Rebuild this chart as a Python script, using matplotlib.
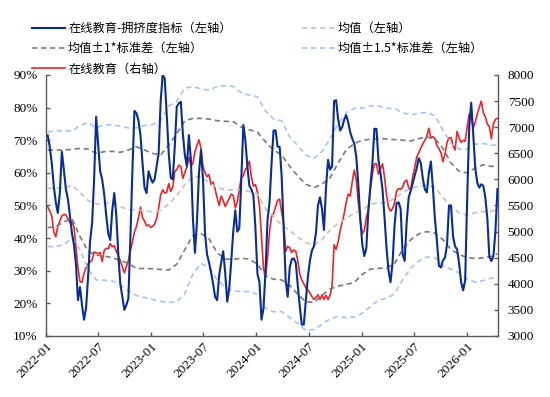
import matplotlib
matplotlib.use("Agg")
import matplotlib.pyplot as plt
import matplotlib.dates as mdates
from matplotlib.ticker import FuncFormatter, MultipleLocator
import pandas as pd
import numpy as np

# ---------------- data ----------------
dates = pd.date_range("2022-01-07", periods=224, freq="7D")

crowding = [
    71.5, 68, 63, 56, 51, 47.7, 53.8, 66.5, 61, 55, 52, 47, 41.5, 38, 32, 21, 25, 19.5, 15, 18.5,
    28, 39, 44.5, 58, 77.2, 69, 60.5, 58, 53.5, 47, 41.5, 39.4, 48.6, 53.8, 47, 35, 26, 22, 18, 19.5,
    21.5, 40.4, 60.9, 79, 78.3, 76, 71.5, 63, 55.5, 53.8, 60.5, 58.5, 57, 58, 62, 66, 82, 90, 89, 78,
    66, 58.5, 58, 68, 80.3, 81.3, 81.8, 72, 65.5, 62, 71.6, 64, 46, 35.5, 45, 60, 67, 58, 41.5, 35,
    32.5, 29.5, 26, 22, 21, 28.5, 32.5, 36, 29.5, 20.5, 24.5, 33, 42, 48.5, 42, 43, 58, 74.7, 70, 62,
    56, 55, 53, 43, 29, 26.5, 15, 18.5, 30, 45.6, 51, 63, 73, 73, 68, 68, 59, 43, 27, 22,
    31, 33.5, 33.8, 32.5, 25.5, 19, 13.5, 13.5, 21, 28, 33, 36.2, 37.5, 41.5, 50, 52.5, 49, 42.5, 55.5, 64,
    61, 62, 82, 82.3, 76.5, 73, 74, 76.3, 77.7, 75.5, 72.5, 70.5, 69, 65, 56.5, 46, 38, 34.5, 37, 48.5,
    56, 63, 73.5, 73.5, 64, 60, 55, 46.5, 37, 30, 26.5, 32.5, 44, 50.7, 51, 49, 35, 33, 45, 52.5,
    54.5, 56.8, 59, 61.5, 64.5, 63, 58.3, 55, 54, 60, 63.5, 55.5, 46, 39, 31.5, 31, 33.2, 34, 38, 50,
    50, 40.5, 37.5, 36.5, 32.3, 26.5, 24, 27, 52, 74, 81.5, 72, 61.5, 57, 55.5, 56.5, 56, 52.5, 46, 34.3,
    33, 34.5, 42, 55,
]

price = [
    5470, 5400, 5300, 5000, 4900, 5100, 5200, 5300, 5330, 5320, 5250, 5170, 5190, 5090, 4700, 4300, 4040, 4030, 4200, 4310,
    4380, 4420, 4450, 4610, 4590, 4580, 4600, 4425, 4640, 4680, 4670, 4770, 4710, 4730, 4620, 4540, 4440, 4320, 4210, 4330,
    4450, 4640, 4800, 4990, 5100, 5270, 5470, 5270, 5200, 5110, 5130, 5080, 5100, 5140, 5250, 5450, 5700, 5800, 5740, 5750,
    5920, 5770, 5850, 6150, 6190, 6270, 6250, 6020, 6130, 6240, 6420, 6270, 6300, 6530, 6650, 6760, 6600, 6250, 6130, 6053,
    6090, 5900, 5950, 5810, 5650, 5500, 5680, 5600, 5480, 5560, 5630, 5720, 5690, 5450, 5570, 5800, 6040, 6070, 6190, 6244,
    6350, 6050, 5870, 5900, 5760, 5500, 4900, 4300, 4120, 4500, 5000, 5290, 5350, 5477, 5600, 5620, 5370, 5150, 4620, 4720,
    4690, 4600, 4649, 4620, 4450, 4180, 4073, 4000, 3920, 3882, 3830, 3754, 3700, 3740, 3790, 3700, 3786, 3700, 3780, 3700,
    3780, 3950, 4750, 4660, 4800, 5020, 5180, 5340, 5560, 5720, 5680, 5950, 6180, 6000, 5560, 5210, 4960, 5020, 5280, 5410,
    5800, 6100, 6300, 6300, 6100, 6200, 6300, 6050, 5700, 5470, 5390, 5440, 5550, 5780, 5825, 5810, 5850, 5960, 5989, 5840,
    5800, 6060, 6230, 6430, 6510, 6600, 6680, 6750, 6830, 6980, 6790, 6820, 6780, 6650, 6590, 6510, 6340, 6480, 6710, 6800,
    6800, 6650, 6564, 6920, 6790, 6710, 6750, 6730, 7000, 7250, 7200, 6990, 7090, 7250, 7380, 7500, 7280, 7200, 7060, 7010,
    6780, 7060, 7150, 7171,
]

# rolling statistics of the crowding index, sampled every 4 weeks (+ last week)
band_idx = list(range(0, 224, 4)) + [223]

mean_line = [
    55.3, 55.3, 55.5, 56.2, 54, 51.5, 50.5, 50.6, 50.8, 49.6, 48.8, 48.6, 48.4, 48.1, 48.5, 50.5, 53, 56.5, 58.8, 58.8,
    57, 55.5, 54.8, 54.8, 54.8, 54.3, 53.5, 49, 46.6, 44, 42.3, 40.3, 38.6, 37.9, 39.5, 42.5, 44.5, 46, 47.7, 48.5,
    50.5, 50.7, 50.9, 52.2, 54, 55.2, 55.9, 56.3, 55.5, 52.5, 49.5, 47.8, 47, 47.8, 48.1, 48.3, 48.6,
]
plus1 = [
    67, 67, 67, 67.2, 67.5, 67.3, 66, 66.5, 66.6, 66.3, 67, 68, 67, 66, 65.5, 68.5, 72, 76, 76.7, 76.7,
    76.5, 76, 75.8, 75.7, 74, 73.2, 72.5, 69.5, 67, 65.5, 62, 59, 56.5, 55.5, 56.5, 58.5, 63, 67, 69, 70,
    70.3, 70.5, 70.4, 70.2, 70, 69.8, 70.5, 71, 70.5, 67.5, 63, 60.5, 60, 61.5, 62.5, 62, 62,
]
minus1 = [
    43.2, 43.5, 45, 46, 40.5, 36, 34.8, 34.5, 34, 33.2, 32.2, 30.7, 30.7, 30.6, 30.4, 30.2, 32, 36.5, 40.8, 41.4,
    39.8, 35.5, 33.6, 33.5, 33.8, 33.6, 32, 28.5, 27.4, 27.2, 25.5, 22.8, 20.5, 20.3, 22.5, 24.4, 25.3, 25.8, 26.4, 28.9,
    30.5, 30.7, 30.9, 32.2, 36.5, 39.5, 41.3, 42, 41.5, 39.5, 36.5, 35, 34, 33.8, 33.9, 34.4, 35.2,
]
plus15 = [
    72.6, 72.8, 73, 72.8, 74.5, 75.5, 73.8, 74.7, 74.7, 74.3, 73.8, 73.8, 74.5, 74.8, 76, 80.5, 82, 86, 86.4, 85.8,
    85.3, 86.5, 86.7, 86.5, 84.5, 83.8, 83.3, 79, 76.5, 76, 71, 68.3, 65.5, 64.4, 66.5, 70.5, 75, 78.5, 79.8, 79.8,
    80.5, 80.5, 79.8, 79.7, 78.5, 77.7, 78.3, 78.5, 77.5, 73, 69, 67.3, 67.3, 68.8, 69, 68.5, 68.5,
]
minus15 = [
    37.4, 37.4, 38, 40, 36.5, 30.5, 27.2, 27.1, 26.9, 25.6, 24, 22.4, 21.8, 21.2, 20.6, 20.3, 20.5, 23, 29, 32.2,
    31, 27.2, 25, 23.8, 23.6, 23.6, 22.8, 18.5, 17.4, 17.5, 15.7, 13.8, 11.7, 12, 13.5, 15.3, 16, 15.6, 15.8, 17,
    19, 21, 21.5, 23, 27.2, 30.8, 33, 34.2, 34, 31.5, 30.5, 29.3, 27.5, 26.5, 27, 27.7, 28.2,
]

labels = ["在线教育-拥挤度指标（左轴）", "均值（左轴）", "均值±1*标准差（左轴）",
          "均值±1.5*标准差（左轴）", "在线教育（右轴）"]

# ---------------- style ----------------
plt.rcParams["font.family"] = ["Noto Sans CJK SC", "DejaVu Sans"]
NUMFONT = "Liberation Serif"

C_BLUE = "#0b2d8f"
C_RED = "#e8262b"
C_MEAN = "#c3c3c3"
C_STD1 = "#7a7a7a"
C_STD15 = "#a8c3ec"
C_SPINE = "#5a5a5a"

fig = plt.figure(figsize=(5.5, 3.97), dpi=100)
ax = fig.add_axes([46 / 550, 1 - 336 / 397, (498 - 46) / 550, (336 - 75) / 397])
ax2 = ax.twinx()

bdates = dates[band_idx]
crowd = np.array(crowding) / 100.0
dash = (3.2, 2.2)

l_blue, = ax.plot(dates, crowd, color=C_BLUE, lw=1.5, zorder=4)
l_mean, = ax.plot(bdates, np.array(mean_line) / 100, color=C_MEAN, lw=1.2, dashes=dash, zorder=2)
l_p1, = ax.plot(bdates, np.array(plus1) / 100, color=C_STD1, lw=1.2, dashes=dash, zorder=2)
ax.plot(bdates, np.array(minus1) / 100, color=C_STD1, lw=1.2, dashes=dash, zorder=2)
l_p15, = ax.plot(bdates, np.array(plus15) / 100, color=C_STD15, lw=1.2, dashes=dash, zorder=2)
ax.plot(bdates, np.array(minus15) / 100, color=C_STD15, lw=1.2, dashes=dash, zorder=2)
l_red, = ax2.plot(dates, price, color=C_RED, lw=1.2, zorder=3)

# put left axis (blue) above right axis lines
ax.set_zorder(ax2.get_zorder() + 1)
ax.patch.set_visible(False)

ax.set_ylim(0.1, 0.9)
ax.yaxis.set_major_locator(MultipleLocator(0.1))
ax.yaxis.set_major_formatter(FuncFormatter(lambda v, p: f"{v*100:.0f}%"))
ax2.set_ylim(3000, 8000)
ax2.yaxis.set_major_locator(MultipleLocator(500))

ax.set_xlim(pd.Timestamp("2022-01-01"), pd.Timestamp("2026-04-19"))
ax.xaxis.set_major_locator(mdates.MonthLocator(bymonth=[1, 7]))
ax.xaxis.set_major_formatter(mdates.DateFormatter("%Y-%m"))

for a in (ax, ax2):
    a.spines["top"].set_visible(False)
    for s in ("left", "right", "bottom"):
        a.spines[s].set_color(C_SPINE)
        a.spines[s].set_linewidth(1.0)
    a.tick_params(direction="in", length=3, color=C_SPINE, width=1.0, labelsize=9.5, pad=3)
ax.tick_params(axis="y", pad=6)
ax2.tick_params(axis="y", pad=7)
ax.spines["right"].set_visible(False)
ax2.spines["left"].set_visible(False)
ax2.spines["bottom"].set_visible(False)

for lab in ax.get_yticklabels() + ax2.get_yticklabels():
    lab.set_fontfamily(NUMFONT)
for lab in ax.get_xticklabels():
    lab.set_fontfamily(NUMFONT)
    lab.set_rotation(45)
    lab.set_ha("right")
    lab.set_rotation_mode("anchor")

leg_kw = dict(loc="upper left", frameon=False, fontsize=8.8, handlelength=2.7,
              handletextpad=0.25, labelspacing=0.6, borderpad=0, borderaxespad=0)
leg1 = fig.legend([l_blue, l_p1, l_red], [labels[0], labels[2], labels[4]],
                  bbox_to_anchor=(32 / 550, 0.945), **leg_kw)
leg2 = fig.legend([l_mean, l_p15], [labels[1], labels[3]],
                  bbox_to_anchor=(302 / 550, 0.945), **leg_kw)

fig.savefig("out.png", dpi=100)
